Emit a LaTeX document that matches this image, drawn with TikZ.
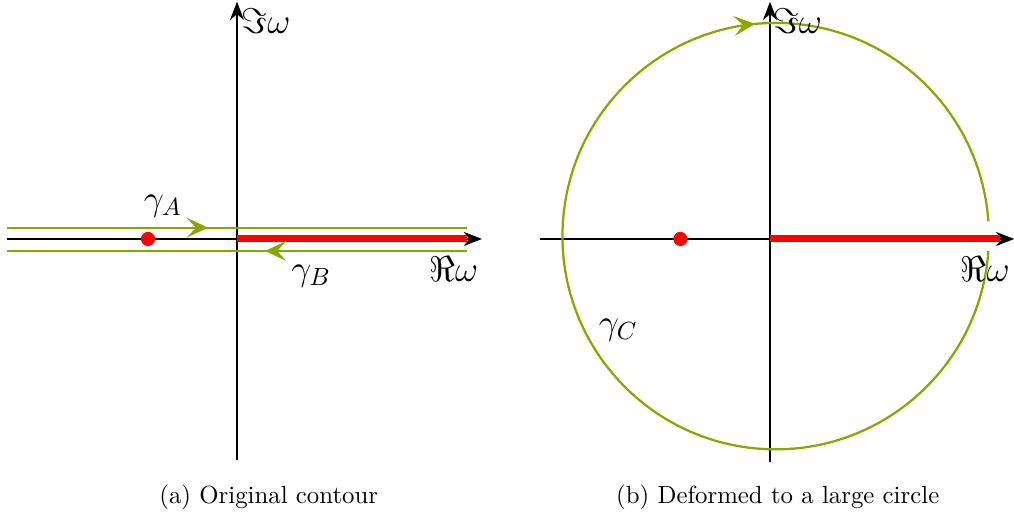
\documentclass[tikz,border=0pt]{standalone}
\usepackage{amsmath}
\usepackage{xcolor}
\usepackage{tikz}
\usetikzlibrary{arrows.meta, decorations.markings, calc}

\definecolor{contourgreen}{RGB}{134,168,0}

\begin{document}
\begin{tikzpicture}[
      axis/.style={draw, line width=0.5pt, -{Stealth[length=2.6mm, width=2mm]}},
      cut/.style={draw, red, line width=2.8pt},
      contour/.style={draw, contourgreen, line width=0.9pt},
      midarrow/.style={postaction={decorate}, decoration={markings,
          mark=at position #1 with {\arrow{Stealth[length=3mm, width=2.8mm, inset=1.3mm]}}}},
      pole/.style={circle, fill=red, inner sep=0pt, minimum size=2mm},
      lbl/.style={font=\Large, inner sep=1pt}
    ]
    \useasboundingbox (-3.357,-3.98) rectangle (11.006,3.385);

    % (a) original contour
    \coordinate (o1) at (0,0);
    \draw[axis] (-3.26,0) -- (3.47,0);
    \draw[axis] (0,-3.13) -- (0,3.36);
    \draw[cut] (o1) -- (3.26,0);
    \node[pole] (p1) at (-1.26,0) {};
    \draw[contour, midarrow=0.437] (-3.26,0.16) -- (3.26,0.16);
    \draw[contour, midarrow=0.439] (3.26,-0.17) -- (-3.26,-0.17);
    \node[lbl] (ga) at (-1.05,0.47) {$\gamma_A$};
    \node[lbl] (gb) at (1.05,-0.53) {$\gamma_B$};
    \node[lbl] (re1) at (3.07,-0.43) {$\Re\omega$};
    \node[lbl] (im1) at (0.41,3.08) {$\Im\omega$};
    \node (capa) at (0.45,-3.66) {(a) Original contour};

    % (b) deformed to a large circle
    \begin{scope}[xshift=7.55cm]
      \coordinate (o2) at (0,0);
      \draw[axis] (-3.26,0) -- (3.46,0);
      \draw[axis] (0,-3.16) -- (0,3.36);
      \draw[cut] (o2) -- (3.26,0);
      \node[pole] (p2) at (-1.27,0) {};
      \draw[contour, midarrow=0.74] ($(0.08,0.04)+(-4:3.02)$) arc[start angle=-4, end angle=-356, radius=3.02];
      \node[lbl] (gc) at (-2.15,-1.29) {$\gamma_C$};
      \node[lbl] (re2) at (3.05,-0.43) {$\Re\omega$};
      \node[lbl] (im2) at (0.39,3.08) {$\Im\omega$};
      \node (capb) at (0.11,-3.66) {(b) Deformed to a large circle};
    \end{scope}
  \end{tikzpicture}
\end{document}
